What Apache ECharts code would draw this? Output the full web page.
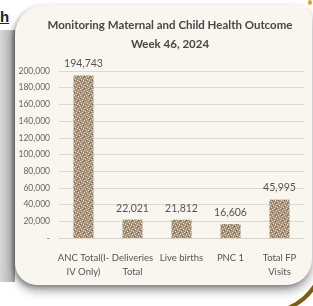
<!DOCTYPE html>
<html>
<head>
<meta charset="utf-8">
<script src="https://cdn.jsdelivr.net/npm/echarts@6/dist/echarts.min.js"></script>
<style>
  html, body { margin: 0; padding: 0; background: #fff; }
  #wrap { position: relative; width: 313px; height: 306px; overflow: hidden; }
  #strip { position: absolute; left: 0; top: 30px; width: 15px; height: 252px;
    background: linear-gradient(to right, #d8d8d8, #b9b9b9 70%, #9a9a9a); }
  #cut { position: absolute; left: 0; top: 8px; font: bold 15px "Liberation Sans", sans-serif;
    color: #222; text-decoration: underline; }
  #panel { position: absolute; left: 15px; top: 5px; width: 297px; height: 280px;
    background: #f9f6ef; border-radius: 30px 14px 26px 22px;
    box-shadow: 0 6px 10px rgba(0,0,0,0.35), -2px 2px 4px rgba(0,0,0,0.25); }
  #deco { position: absolute; left: 0; top: 0; }
  #chart { position: absolute; left: 0; top: 0; width: 313px; height: 306px; }
</style>
</head>
<body>
<div id="wrap">
  <div id="strip"></div>
  <div id="cut">h</div>
  <svg id="deco" width="313" height="306">
    <path d="M 318 280 A 60 60 0 0 1 286 309" fill="none" stroke="#7c5e12" stroke-width="4"/>
    <rect x="308" y="0" width="4" height="5" rx="2" fill="#e0a82a"/>
  </svg>
  <div id="panel"></div>
  <div id="chart"></div>
</div>
<script>
// 数据
const categories = ['ANC Total(I-\nIV Only)', 'Deliveries\nTotal', 'Live births', 'PNC 1', 'Total FP\nVisits']
const values = [194743, 22021, 21812, 16606, 45995]
const yTicks = [0, 20000, 40000, 60000, 80000, 100000, 120000, 140000, 160000, 180000, 200000]

const FONT = 'Lato'

// 斑点纹理
function makePattern() {
  const c = document.createElement('canvas')
  c.width = 6; c.height = 6
  const g = c.getContext('2d')
  g.fillStyle = '#a8927a'
  g.fillRect(0, 0, 6, 6)
  g.fillStyle = '#e6dccd'
  const dots = [[0, 0], [3, 1], [1, 3], [4, 4], [5, 2], [2, 5]]
  dots.forEach(([x, y]) => g.fillRect(x, y, 1, 1))
  g.fillStyle = '#7d6a55'
  ;[[2, 2], [5, 5], [0, 4]].forEach(([x, y]) => g.fillRect(x, y, 1, 1))
  return c
}

const fmt = v => v === 0 ? '-' : v.toLocaleString('en-US')

const chart = echarts.init(document.getElementById('chart'), null, { renderer: 'canvas' })
chart.setOption({
  animation: false,
  backgroundColor: 'transparent',
  title: {
    text: 'Monitoring Maternal and Child Health Outcome\nWeek 46, 2024',
    left: 165, top: 11, textAlign: 'center',
    textStyle: { fontFamily: FONT, fontWeight: 'bold', fontSize: 11.5, color: '#474747', lineHeight: 19 }
  },
  grid: { left: 59, right: 9, top: 71, bottom: 68 },
  xAxis: {
    type: 'category',
    data: categories,
    axisLine: { lineStyle: { color: '#d6d3cc' } },
    axisTick: { show: false },
    axisLabel: { interval: 0, color: '#555', fontFamily: FONT, fontSize: 9.5, lineHeight: 14, margin: 13 }
  },
  yAxis: {
    type: 'value', min: yTicks[0], max: yTicks[yTicks.length - 1], interval: 20000,
    axisLine: { show: false }, axisTick: { show: false },
    splitLine: { lineStyle: { color: '#dcd9d2' } },
    axisLabel: { color: '#666', fontFamily: FONT, fontSize: 8.5, margin: 9, formatter: fmt }
  },
  series: [{
    type: 'bar',
    data: values,
    barWidth: 20,
    itemStyle: { color: { image: makePattern(), repeat: 'repeat' } },
    label: {
      show: true, position: 'top', distance: 6, color: '#555',
      fontFamily: FONT, fontSize: 10.5, formatter: p => fmt(p.value)
    }
  }]
})
</script>
</body>
</html>
